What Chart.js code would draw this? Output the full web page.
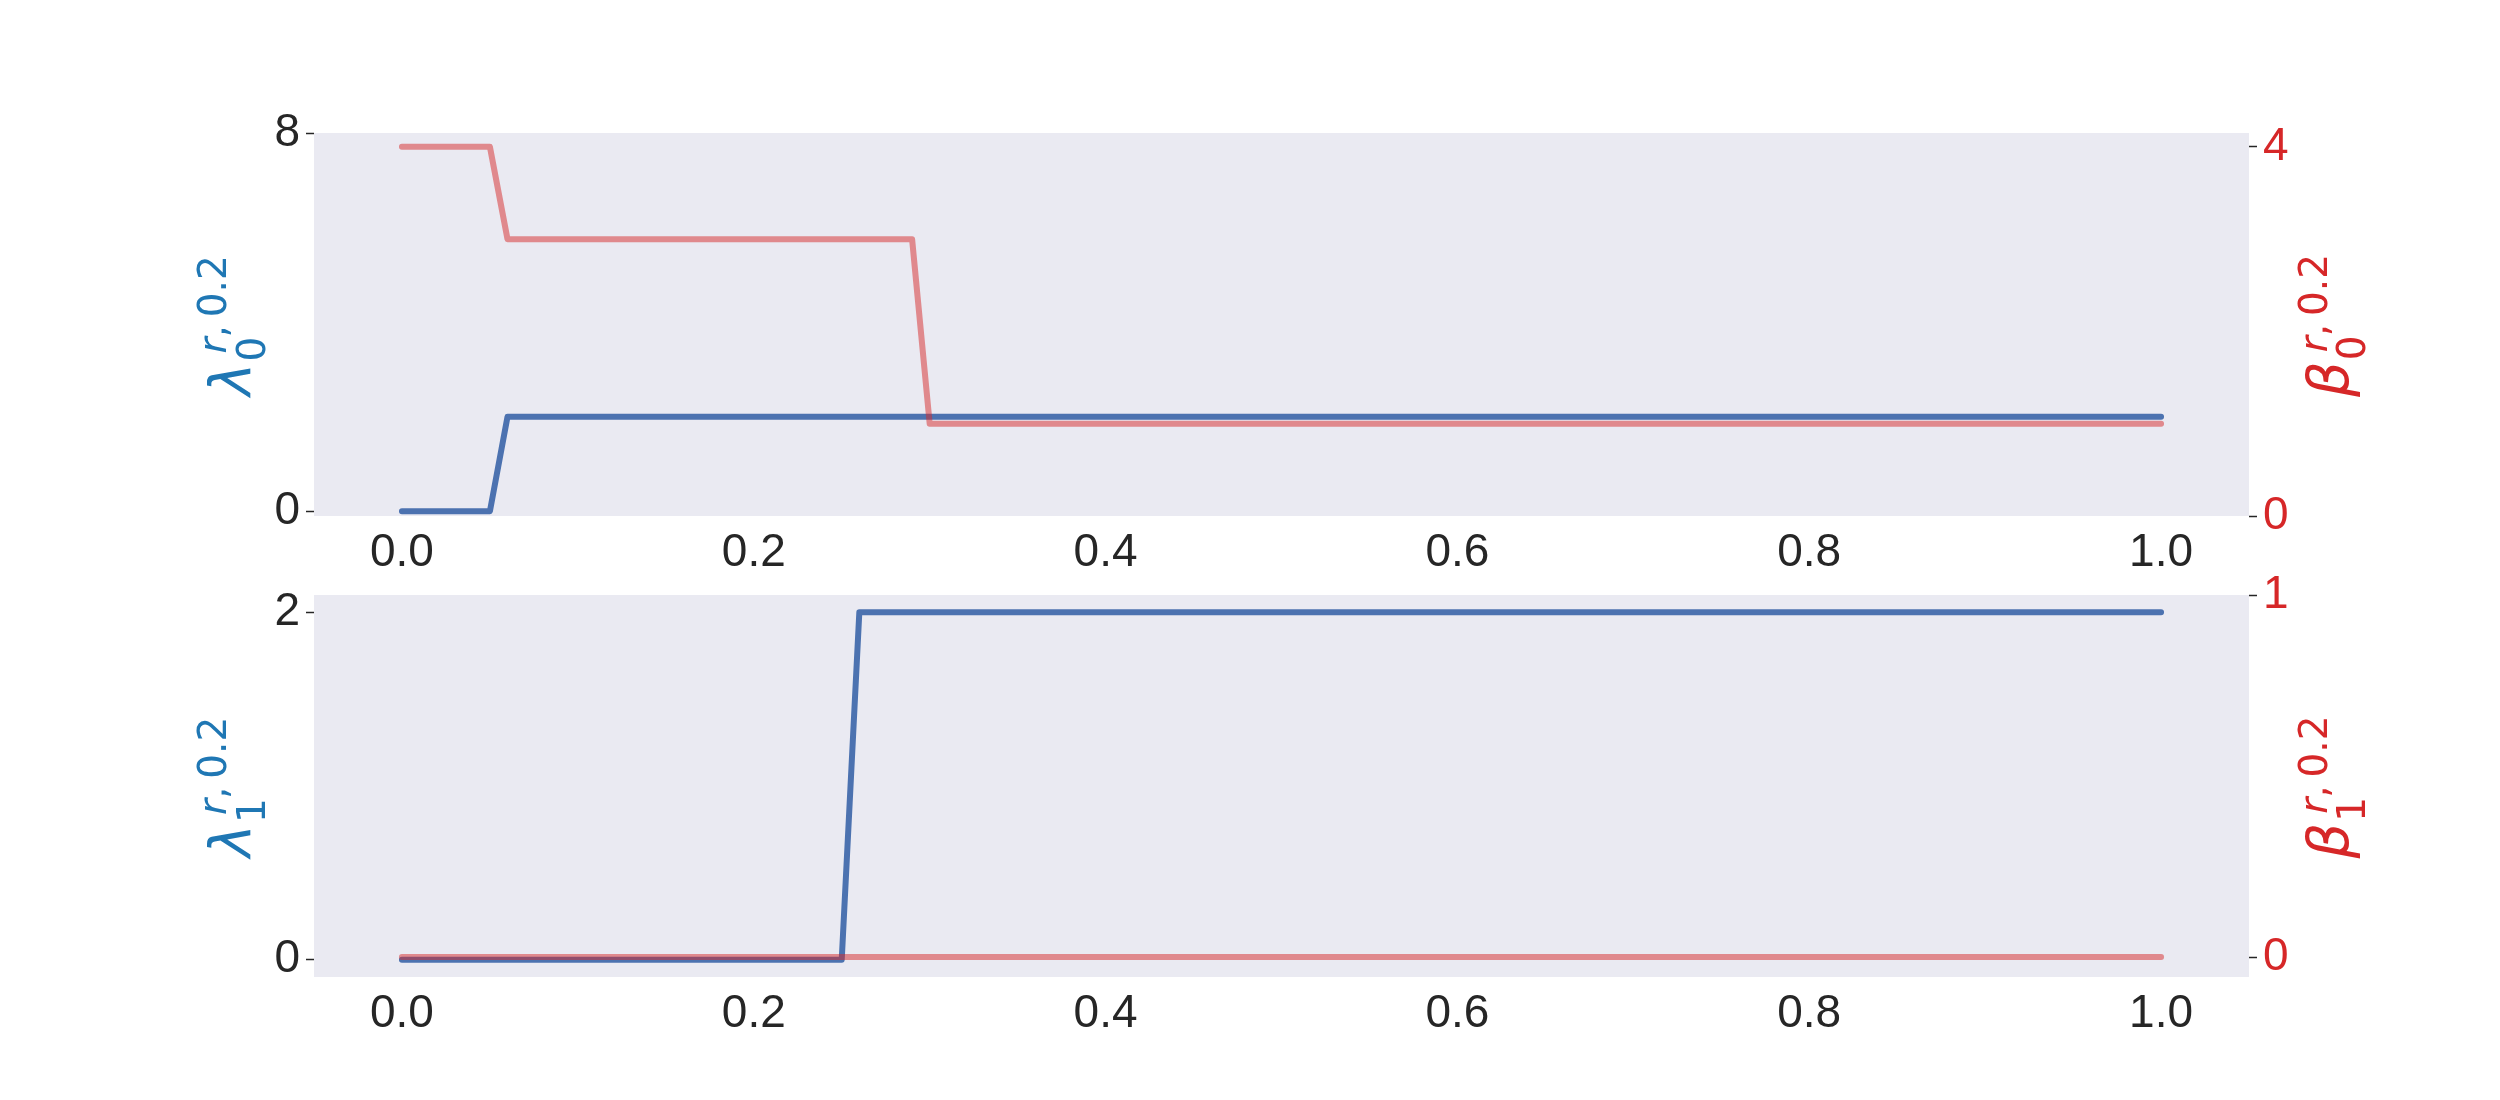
<!DOCTYPE html>
<html><head><meta charset="utf-8">
<script src="https://cdn.jsdelivr.net/npm/chart.js@4.4.1/dist/chart.umd.min.js"></script>
<style>
html,body{margin:0;padding:0;background:#fff;width:2500px;height:1100px;overflow:hidden}
canvas{position:absolute;left:0}
</style></head><body>
<canvas id="c1" width="2500" height="580" style="top:0px"></canvas>
<canvas id="c2" width="2500" height="560" style="top:540px"></canvas>
<script>
// ---- data ----
const xTicks = [0, 0.2, 0.4, 0.6, 0.8, 1.0];
const xTopLambda = [0, 0.05, 0.06, 1];
const yTopLambda = [0, 0, 2, 2];
const xTopBeta = [0, 0.05, 0.06, 0.29, 0.30, 1];
const yTopBeta = [4, 4, 3, 3, 1, 1];
const xBotLambda = [0, 0.25, 0.26, 1];
const yBotLambda = [0, 0, 2, 2];
const xBotBeta = [0, 1];
const yBotBeta = [0, 0];
const topLeftTicks = [0, 8];
const topRightTicks = [0, 4];
const botLeftTicks = [0, 2];
const botRightTicks = [0, 1];
const topLeftLabel = {sym: 'λ', sub: '0', supI: 'r', sup: ',\u2009' + '0.2'};
const topRightLabel = {sym: 'β', sub: '0', supI: 'r', sup: ',\u2009' + '0.2'};
const botLeftLabel = {sym: 'λ', sub: '1', supI: 'r', sup: ',\u2009' + '0.2'};
const botRightLabel = {sym: 'β', sub: '1', supI: 'r', sup: ',\u2009' + '0.2'};

const BLUE = '#4c72b0';
const RED_LINE = 'rgba(214,39,40,0.5)';
const BLUE_TXT = '#1f77b4';
const RED_TXT = '#d62728';
const DARK = '#262626';
const TICK_FONT = {family: 'Liberation Sans', size: 46};

const bgPlugin = {
  id: 'bg',
  beforeDraw(chart) {
    const {ctx, chartArea: a} = chart;
    ctx.save();
    ctx.fillStyle = '#eaeaf2';
    ctx.fillRect(a.left, a.top, a.right - a.left, a.bottom - a.top);
    ctx.restore();
  }
};

function drawMath(ctx, lab, baseX, cy, color, subDy, supDy) {
  ctx.save();
  ctx.translate(baseX, cy);
  ctx.rotate(-Math.PI / 2);
  ctx.fillStyle = color;
  ctx.textBaseline = 'alphabetic';
  ctx.textAlign = 'left';
  const fMain = 'italic 56px "DejaVu Sans"';
  const fSmallI = 'italic 39px "DejaVu Sans"';
  const fSmall = '39px "DejaVu Sans"';
  ctx.font = fMain; const w0 = ctx.measureText(lab.sym).width;
  ctx.font = fSmall; const w1 = ctx.measureText(lab.sub).width;
  ctx.font = fSmallI; const w2 = ctx.measureText(lab.supI).width;
  ctx.font = fSmall; const w3 = ctx.measureText(lab.sup).width;
  const subX = w0 + 1, supX = w0 + 9;
  const total = Math.max(subX + w1, supX + w2 + w3);
  const x0 = -total / 2;
  ctx.font = fMain; ctx.fillText(lab.sym, x0, 0);
  ctx.font = fSmall; ctx.fillText(lab.sub, x0 + subX, subDy);
  ctx.font = fSmallI; ctx.fillText(lab.supI, x0 + supX, supDy);
  ctx.font = fSmall; ctx.fillText(lab.sup, x0 + supX + w2, supDy);
  ctx.restore();
}

const labelPlugin = {
  id: 'mathLabels',
  afterDraw(chart, args, opts) {
    const {ctx, chartArea: a} = chart;
    const cy = (a.top + a.bottom) / 2 + 1;
    drawMath(ctx, opts.left, a.left - 64, cy, BLUE_TXT, 15, -24);
    drawMath(ctx, opts.right, a.right + 99, cy, RED_TXT, 17, -21);
  }
};

function pts(xs, ys) { return xs.map((x, i) => ({x: x, y: ys[i]})); }

function makeChart(id, padTop, xAxisH, lam, bet, leftTicks, rightTicks, leftRange, rightRange, leftLab, rightLab) {
  return new Chart(document.getElementById(id), {
    type: 'line',
    data: {
      datasets: [
        {label: 'lambda', data: lam, yAxisID: 'yL', borderColor: BLUE, borderWidth: 6,
         pointRadius: 0, tension: 0, fill: false, order: 1, borderCapStyle: 'round', borderJoinStyle: 'round'},
        {label: 'beta', data: bet, yAxisID: 'yR', borderColor: RED_LINE, borderWidth: 6,
         pointRadius: 0, tension: 0, fill: false, order: 0, borderCapStyle: 'round', borderJoinStyle: 'round'}
      ]
    },
    options: {
      responsive: false, animation: false, devicePixelRatio: 1, events: [],
      layout: {padding: {top: padTop, left: 0, right: 0, bottom: 0}},
      plugins: {legend: {display: false}, tooltip: {enabled: false},
                mathLabels: {left: leftLab, right: rightLab}},
      scales: {
        x: {type: 'linear', min: -0.05, max: 1.05,
            afterBuildTicks: s => { s.ticks = xTicks.map(v => ({value: v})); },
            ticks: {callback: v => v.toFixed(1), font: TICK_FONT, color: DARK, padding: 10,
                    maxRotation: 0, autoSkip: false},
            grid: {display: false, drawTicks: false}, border: {display: false},
            afterFit: s => { s.height = xAxisH; }},
        yL: {type: 'linear', position: 'left', min: leftRange[0], max: leftRange[1],
             afterBuildTicks: s => { s.ticks = leftTicks.map(v => ({value: v})); },
             ticks: {font: TICK_FONT, color: DARK, padding: 6, autoSkip: false},
             grid: {drawOnChartArea: false, drawTicks: true, tickLength: 8, tickColor: DARK, tickWidth: 1.5},
             border: {display: false},
             afterFit: s => { s.width = 314; }},
        yR: {type: 'linear', position: 'right', min: rightRange[0], max: rightRange[1],
             afterBuildTicks: s => { s.ticks = rightTicks.map(v => ({value: v})); },
             ticks: {font: TICK_FONT, color: RED_TXT, padding: 6, autoSkip: false},
             grid: {drawOnChartArea: false, drawTicks: true, tickLength: 8, tickColor: DARK, tickWidth: 1.5},
             border: {display: false},
             afterFit: s => { s.width = 251; }}
      }
    },
    plugins: [bgPlugin, labelPlugin]
  });
}

makeChart('c1', 133, 64, pts(xTopLambda, yTopLambda), pts(xTopBeta, yTopBeta),
          topLeftTicks, topRightTicks, [-0.1, 8], [0, 4.15], topLeftLabel, topRightLabel);
makeChart('c2', 55, 123, pts(xBotLambda, yBotLambda), pts(xBotBeta, yBotBeta),
          botLeftTicks, botRightTicks, [-0.1, 2.1], [-0.055, 1], botLeftLabel, botRightLabel);
</script>
</body></html>
